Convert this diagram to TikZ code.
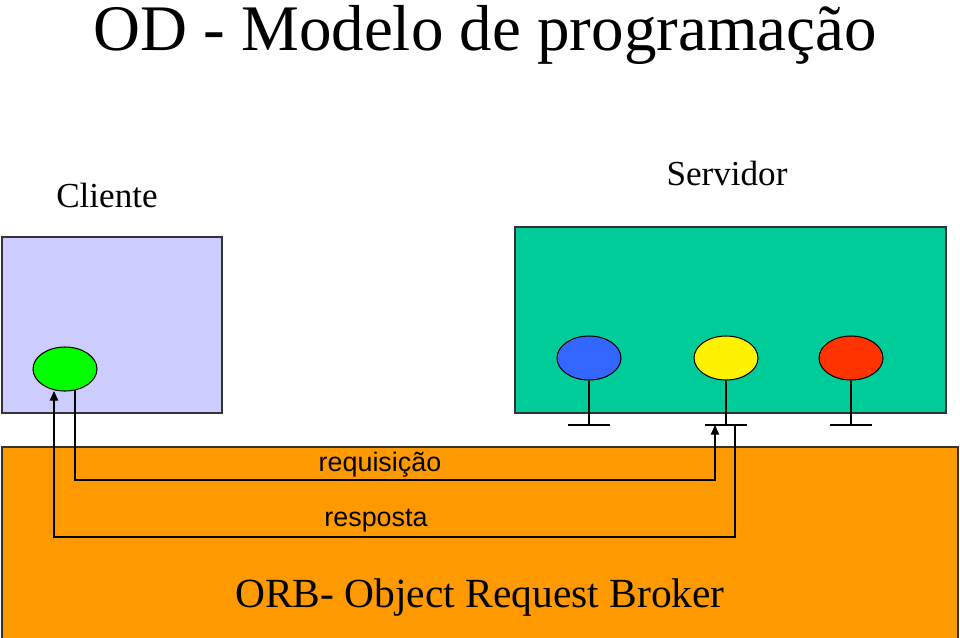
\documentclass[tikz,border=0pt]{standalone}
\usepackage{fontspec}
\setmainfont{Liberation Serif}
\setsansfont{Liberation Sans}
\usetikzlibrary{arrows.meta,shapes.geometric,calc}
\begin{document}
\begin{tikzpicture}[x=0.02cm,y=-0.02cm,
  box/.style={draw=black!80, line width=1pt},
  obj/.style={ellipse, draw=black, line width=0.6pt, minimum width=1.28cm, minimum height=0.88cm, inner sep=0pt},
  wire/.style={line width=0.7pt},
  msg/.style={wire, -{Triangle[length=5.5pt,width=4.8pt]}}]
\clip (0,0) rectangle (960,637);
\definecolor{clientcolor}{RGB}{204,204,255}
\definecolor{servercolor}{RGB}{0,204,153}
\definecolor{orbcolor}{RGB}{255,153,0}
% titulo
\node[anchor=base] (title) at (485,50) {\fontsize{37}{40}\selectfont OD - Modelo de programação};
% caixas
\draw[box, fill=clientcolor] (2,237) rectangle (222,413);
\draw[box, fill=servercolor] (515,227) rectangle (946,413);
\draw[box, fill=orbcolor] (2,447) rectangle (958,660);
\node[anchor=base] (client) at (107,207) {\fontsize{20}{24}\selectfont Cliente};
\node[anchor=base] (server) at (727,185) {\fontsize{20}{24}\selectfont Servidor};
\node[anchor=base] (orb) at (480,607) {\fontsize{23.6}{28}\selectfont ORB- Object Request Broker};
% objetos
\node[obj, fill=green] (green) at (65,369) {};
\foreach \name/\x/\col in {blue/589/{rgb,255:red,51;green,102;blue,255}, yellow/726/yellow, red/851/{rgb,255:red,255;green,51;blue,0}}
{
  \node[obj, fill=\col] (\name) at (\x,358) {};
  \coordinate (\name-port) at (\x,425);
  \draw[wire] (\name.south) -- (\name-port);
  \draw[wire] ($(\name-port)+(-21,0)$) -- ($(\name-port)+(21,0)$);
}
% mensagens
\coordinate (reqstart) at (75,390);
\coordinate (reqend) at (715,425);
\coordinate (respstart) at (735,425);
\coordinate (respend) at (54,391);
\draw[msg] (reqstart) -- ++(0,90) -| (reqend);
\draw[msg] (respstart) -- ++(0,112) -| (respend);
\node[anchor=base, font=\sffamily\fontsize{15.3}{18}\selectfont] (req) at (380,471) {requisição};
\node[anchor=base, font=\sffamily\fontsize{15.3}{18}\selectfont] (resp) at (376,526) {resposta};
\end{tikzpicture}
\end{document}
